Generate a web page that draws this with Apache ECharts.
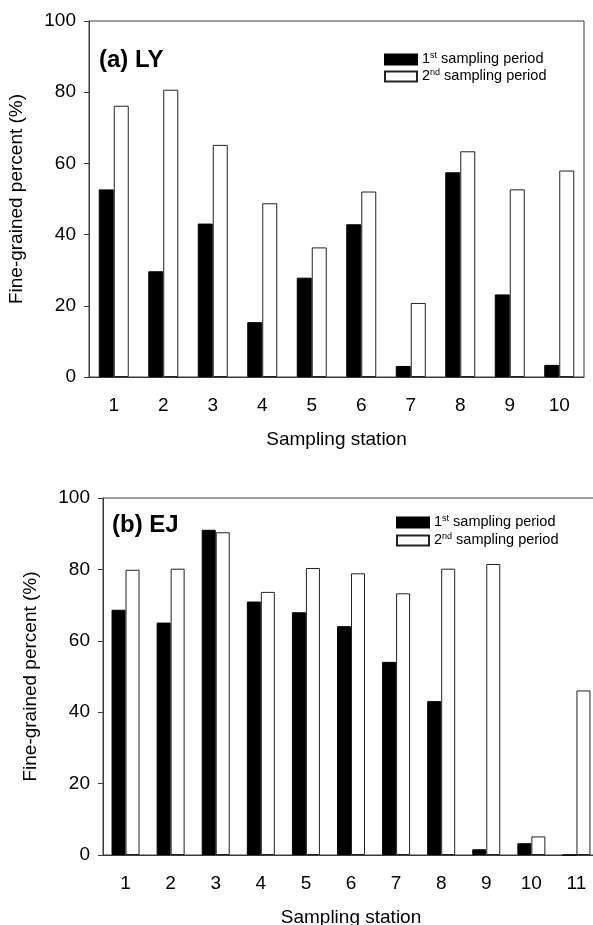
<html>

<head>
    <script src="https://cdn.jsdelivr.net/npm/echarts@6/dist/echarts.min.js"></script>
    <style>
        body {
            margin: 0;
            background-color: #fff;
        }

        #chart {
            width: 593px;
            height: 925px;
        }
    </style>
</head>

<body>
    <div id="chart"></div>
    <script>
        // panel (a) LY
        var lyStations = ['1', '2', '3', '4', '5', '6', '7', '8', '9', '10'];
        var lyFirst = [52.7, 29.7, 43.1, 15.4, 27.9, 42.9, 3.1, 57.5, 23.2, 3.4];
        var lySecond = [76.2, 80.7, 65.2, 48.8, 36.4, 52.1, 20.8, 63.4, 52.7, 58.0];

        // panel (b) EJ
        var ejStations = ['1', '2', '3', '4', '5', '6', '7', '8', '9', '10', '11'];
        var ejFirst = [68.7, 65.1, 91.1, 71.0, 68.0, 64.1, 54.1, 43.1, 1.6, 3.3, 0];
        var ejSecond = [79.9, 80.2, 90.4, 73.7, 80.4, 78.9, 73.3, 80.2, 81.5, 5.2, 46.1];

        var yMin = 0, yMax = 100, yStep = 20;

        var font = '"Liberation Sans", Arial, sans-serif';
        var lineColor = '#3a3a3a';

        function legendText(name) {
            return name === 'first' ? '1{sup|st} sampling period' : '2{sup|nd} sampling period';
        }

        function xAxisOf(idx, cats) {
            return {
                type: 'category',
                gridIndex: idx,
                data: cats,
                name: 'Sampling station',
                nameLocation: 'middle',
                nameGap: 46,
                nameTextStyle: { fontFamily: font, fontSize: 19, color: '#000' },
                axisLine: { lineStyle: { color: lineColor, width: 1 } },
                axisTick: { alignWithLabel: true, length: 5, lineStyle: { color: lineColor } },
                axisLabel: { margin: 12, fontFamily: font, fontSize: 19, color: '#000' }
            };
        }

        function yAxisOf(idx) {
            return {
                type: 'value',
                gridIndex: idx,
                min: yMin,
                max: yMax,
                interval: yStep,
                name: 'Fine-grained percent (%)',
                nameLocation: 'middle',
                nameGap: 54,
                nameTextStyle: { fontFamily: font, fontSize: 19, color: '#000' },
                axisLine: { show: true, lineStyle: { color: lineColor, width: 1 } },
                axisTick: { show: true, length: 5, lineStyle: { color: lineColor } },
                axisLabel: { margin: 13, fontFamily: font, fontSize: 19, color: '#000' },
                splitLine: { show: false }
            };
        }

        function legendOf(left, top, gap) {
            return {
                orient: 'vertical',
                left: left,
                top: top,
                padding: 0,
                itemGap: gap,
                itemWidth: 32,
                itemHeight: 10,
                icon: 'rect',
                selectedMode: false,
                data: ['first', 'second'],
                formatter: legendText,
                textStyle: {
                    fontFamily: font,
                    fontSize: 14.5,
                    color: '#000',
                    lineHeight: 16,
                    rich: {
                        sup: { fontFamily: font, fontSize: 9, color: '#000', padding: [0, 0, 7, 0] }
                    }
                }
            };
        }

        function barsOf(idx, first, second, w) {
            return [
                {
                    name: 'first',
                    type: 'bar',
                    xAxisIndex: idx,
                    yAxisIndex: idx,
                    barWidth: w,
                    barGap: '0%',
                    data: first,
                    itemStyle: { color: '#000', borderColor: '#000', borderWidth: 1 }
                },
                {
                    name: 'second',
                    type: 'bar',
                    xAxisIndex: idx,
                    yAxisIndex: idx,
                    barWidth: w,
                    barGap: '0%',
                    data: second,
                    itemStyle: { color: '#fff', borderColor: '#222', borderWidth: 1 }
                }
            ];
        }

        var myChart = echarts.init(document.getElementById('chart'));
        var option = {
            animation: false,
            backgroundColor: '#fff',
            title: [
                {
                    text: '(a) LY',
                    left: 99,
                    top: 40,
                    padding: 0,
                    textStyle: { fontFamily: font, fontSize: 24, fontWeight: 'bold', color: '#000' }
                },
                {
                    text: '(b) EJ',
                    left: 112,
                    top: 505,
                    padding: 0,
                    textStyle: { fontFamily: font, fontSize: 24, fontWeight: 'bold', color: '#000' }
                }
            ],
            legend: [legendOf(384, 47, -8), legendOf(396, 510, -7)],
            grid: [
                { left: 89, top: 21, width: 495, height: 356, outerBoundsMode: 'none', show: true, borderColor: lineColor, borderWidth: 1 },
                { left: 103, top: 498, width: 496, height: 357, outerBoundsMode: 'none', show: true, borderColor: lineColor, borderWidth: 1 }
            ],
            xAxis: [xAxisOf(0, lyStations), xAxisOf(1, ejStations)],
            yAxis: [yAxisOf(0), yAxisOf(1)],
            series: barsOf(0, lyFirst, lySecond, 15).concat(barsOf(1, ejFirst, ejSecond, 14))
        };

        myChart.setOption(option);
    </script>

</body>

</html>
